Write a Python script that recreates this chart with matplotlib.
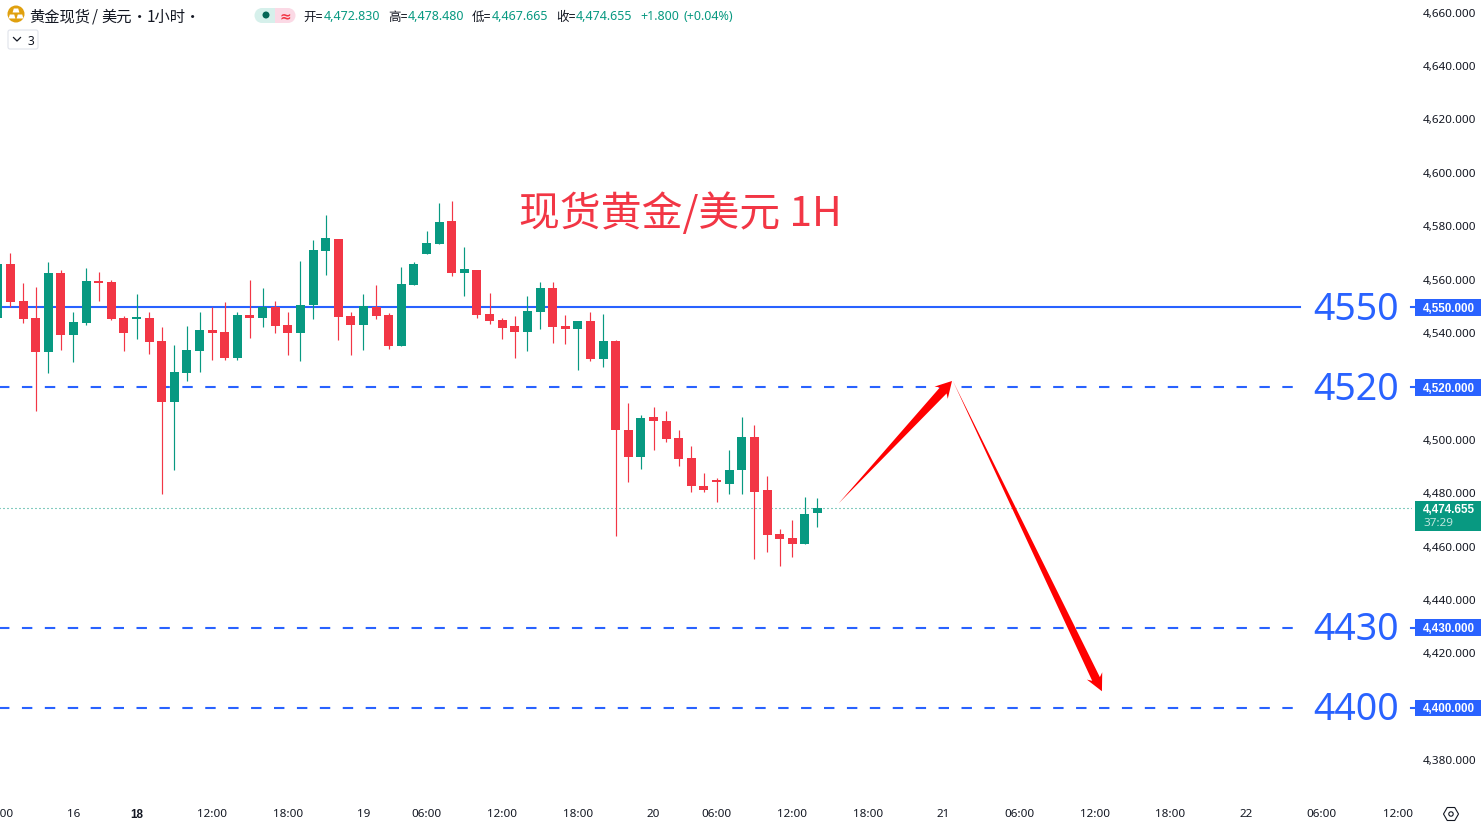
import matplotlib

matplotlib.use("Agg")
import matplotlib.pyplot as plt
from matplotlib.patches import Circle, FancyBboxPatch, Polygon, Rectangle, RegularPolygon
from matplotlib.transforms import IdentityTransform, ScaledTranslation
import numpy as np

plt.rcParams["font.family"] = ["Noto Sans CJK SC", "DejaVu Sans"]

opens = [
    4545.9, 4566.1, 4552.25, 4545.9, 4533.1, 4562.75, 4539.5, 4544.0, 4559.75, 4559.4, 4545.9,
    4545.6, 4545.9, 4537.25, 4514.4, 4525.25, 4533.5, 4541.4, 4540.6, 4530.9, 4547.0, 4545.9,
    4550.0, 4543.25, 4540.25, 4550.75, 4571.0, 4575.5, 4546.6, 4543.25, 4550.0, 4547.0, 4535.4,
    4558.25, 4569.9, 4573.6, 4582.25, 4562.75, 4563.9, 4547.4, 4545.1, 4542.9, 4540.6, 4548.1,
    4557.1, 4542.9, 4541.75, 4544.75, 4530.5, 4537.25, 4503.9, 4493.75, 4508.75, 4507.6, 4500.9,
    4493.4, 4483.25, 4484.75, 4484.0, 4488.9, 4501.25, 4481.4, 4465.25, 4463.75, 4461.5, 4472.83,
]
closes = [
    4566.1, 4551.9, 4545.5, 4533.1, 4562.75, 4539.5, 4544.4, 4559.75, 4559.0, 4545.5, 4540.25,
    4545.9, 4536.9, 4514.4, 4525.6, 4533.9, 4541.4, 4540.25, 4530.9, 4547.0, 4545.9, 4550.0,
    4542.9, 4540.25, 4550.75, 4571.4, 4575.9, 4546.25, 4543.25, 4550.4, 4546.6, 4535.4, 4558.6,
    4566.1, 4574.0, 4581.9, 4562.75, 4564.25, 4547.0, 4544.75, 4542.1, 4540.6, 4548.5, 4557.1,
    4542.5, 4541.75, 4544.75, 4530.5, 4537.25, 4503.9, 4493.75, 4508.4, 4507.6, 4500.5, 4493.0,
    4482.9, 4481.75, 4484.4, 4489.25, 4501.25, 4481.0, 4464.9, 4463.4, 4461.5, 4472.75, 4474.655,
]
highs = [
    4566.1, 4570.25, 4559.0, 4557.5, 4566.9, 4563.9, 4548.1, 4564.6, 4563.1, 4560.1, 4546.6,
    4554.9, 4548.1, 4542.5, 4535.75, 4542.9, 4548.1, 4550.0, 4551.9, 4548.1, 4560.1, 4557.1,
    4552.25, 4548.1, 4567.25, 4575.1, 4584.5, 4575.5, 4548.1, 4554.9, 4558.25, 4547.75, 4565.0,
    4566.9, 4578.5, 4589.0, 4589.75, 4572.5, 4563.9, 4555.25, 4545.9, 4546.6, 4554.1, 4559.4,
    4559.4, 4547.0, 4544.75, 4548.1, 4547.4, 4537.6, 4514.0, 4509.5, 4512.5, 4511.0, 4503.9,
    4497.9, 4488.1, 4485.9, 4496.4, 4508.75, 4506.1, 4487.0, 4467.1, 4470.5, 4479.1, 4478.48,
]
lows = [
    4545.9, 4550.0, 4544.0, 4511.0, 4525.25, 4533.9, 4529.4, 4543.25, 4552.25, 4545.1, 4533.5,
    4538.0, 4532.4, 4480.25, 4489.25, 4522.25, 4525.6, 4530.1, 4530.1, 4530.1, 4538.4, 4542.5,
    4540.25, 4532.0, 4529.75, 4545.5, 4562.0, 4537.6, 4532.0, 4533.9, 4545.5, 4534.25, 4535.4,
    4558.25, 4569.9, 4573.6, 4561.6, 4554.1, 4545.9, 4543.6, 4538.0, 4530.9, 4533.5, 4541.75,
    4536.5, 4536.1, 4526.4, 4529.75, 4527.5, 4464.5, 4484.4, 4489.6, 4496.4, 4499.4, 4490.4,
    4481.0, 4481.0, 4477.25, 4479.9, 4479.9, 4455.9, 4458.5, 4453.25, 4456.6, 4461.5, 4467.665,
]

price_ticks = [4380, 4400, 4420, 4440, 4460, 4480, 4500, 4520, 4540, 4560, 4580, 4600, 4620, 4640, 4660]
time_ticks = [0, 6, 11, 17, 23, 29, 34, 40, 46, 52, 57, 63, 69, 75, 81, 87, 93, 99, 105, 111]
time_labels = ["18:00", "16", "18", "12:00", "18:00", "19", "06:00", "12:00", "18:00", "20", "06:00",
               "12:00", "18:00", "21", "06:00", "12:00", "18:00", "22", "06:00", "12:00"]
bold_times = ["18"]

levels = [4550, 4520, 4430, 4400]
level_styles = ["-", (0, (5, 6)), (0, (5, 6)), (0, (5, 6))]
level_end = 103.27
last_price = 4474.655
countdown = "37:29"

arrow_up = [(66.67, 4476.5), (75.67, 4522.4)]
arrow_down = [(75.72, 4522.6), (87.56, 4406.2)]

title_text = "现货黄金/美元 1H"
title_pos = (54.14, 4586.7)

symbol_parts = ["黄金现货", "/", "美元", "·", "1小时", "·"]
symbol_x = [29, 92, 101, 140, 147, 193]

header_parts = [("开=", "#131722"), ("4,472.830", "#089981"), ("高=", "#131722"), ("4,478.480", "#089981"),
                ("低=", "#131722"), ("4,467.665", "#089981"), ("收=", "#131722"), ("4,474.655", "#089981"),
                ("+1.800", "#089981"), ("(+0.04%)", "#089981")]
header_x = [303, 324, 388, 408, 472, 492, 556, 576, 640, 684]

GREEN = "#089981"
RED = "#F23645"
BLUE = "#2962FF"
TEXT = "#131722"
NUM_FONT = ["Noto Sans", "DejaVu Sans"]
BOLD_FONT = ["Liberation Sans", "DejaVu Sans"]
PX_PER_BAR = 12.61
BAR0_X = -2.2


def draw_candles(ax):
    x = np.arange(len(opens))
    o, c = np.array(opens), np.array(closes)
    colors = [GREEN if b >= a else RED for a, b in zip(o, c)]
    ax.vlines(x, lows, highs, colors=colors, lw=0.85, zorder=3)
    height = np.maximum(np.abs(c - o), 0.8)
    ax.bar(x, height, bottom=np.minimum(o, c), width=9 / PX_PER_BAR, color=colors, lw=0, zorder=4)


def draw_arrow(ax, tail, tip, neck_w, head_w, head_l, zorder=5):
    # tapered arrow, built in screen pixels so the head does not skew with the scale
    a, b = ax.transData.transform([tail, tip])
    u = (b - a) / np.hypot(*(b - a))
    n = np.array([-u[1], u[0]])
    neck = b - u * head_l * 0.8
    back = b - u * head_l
    pts = [a, neck + n * neck_w / 2, back + n * head_w / 2, b, back - n * head_w / 2, neck - n * neck_w / 2]
    ax.add_patch(Polygon(pts, closed=True, fc="#FF0000", ec="none", transform=IdentityTransform(), zorder=zorder,
                         clip_on=False))


def axis_frac(px):
    return (px + 20) / 1432


def draw_levels(ax):
    trans = ax.get_yaxis_transform()
    for level, style in zip(levels, level_styles):
        ax.plot([0, level_end], [level, level], color=BLUE, lw=1.5, ls=style, zorder=2)
        ax.text(axis_frac(1356), level + 0.7, str(level), transform=trans, color=BLUE, fontsize=27, family=NUM_FONT,
                ha="center", va="center_baseline", zorder=6)
        ax.plot([axis_frac(1411), axis_frac(1415)], [level, level], color=BLUE, lw=1.5, transform=trans,
                clip_on=False)
        ax.add_patch(Rectangle((axis_frac(1415), level - 3.2), 66 / 1432, 6.3, transform=trans, fc=BLUE, ec="none",
                               clip_on=False, zorder=6))
        ax.text(axis_frac(1423), level, f"{level:,.3f}", transform=trans, color="white", fontsize=8.4,
                family=BOLD_FONT, weight="bold", va="center_baseline", clip_on=False, zorder=7)


def draw_last_price(ax):
    trans = ax.get_yaxis_transform()
    ax.plot([0, 1], [last_price, last_price], color=GREEN, lw=0.8, ls=(0, (0.9, 2.7)), transform=trans, zorder=2)
    ax.add_patch(Rectangle((axis_frac(1415), last_price - 8.6), 66 / 1432, 11.5, transform=trans, fc=GREEN, ec="none",
                           clip_on=False, zorder=6))
    ax.text(axis_frac(1423), last_price, f"{last_price:,.3f}", transform=trans, color="white", fontsize=8.4,
            family=BOLD_FONT, weight="bold", va="center_baseline", clip_on=False, zorder=7)
    ax.text(axis_frac(1423), last_price - 5, countdown, transform=trans, color="#BFE5DD", fontsize=8.4,
            family=NUM_FONT, va="center_baseline", clip_on=False, zorder=7)


def draw_chrome(fig):
    ui = fig.add_axes([0, 0, 1, 1], zorder=10)
    ui.set_xlim(0, 1484)
    ui.set_ylim(827, 0)
    ui.axis("off")

    # symbol icon and title
    ui.add_patch(Circle((16, 14), 8.5, fc="#E0A00E", ec="none"))
    for cx, cy in [(16, 10.5), (12, 16.5), (20, 16.5)]:
        ui.add_patch(Polygon([(cx - 2.2, cy - 2), (cx + 2.2, cy - 2), (cx + 3.4, cy + 2), (cx - 3.4, cy + 2)], fc="white"))
    for part, x in zip(symbol_parts, symbol_x):
        ui.text(x, 15, part, fontsize=11, color=TEXT, va="center_baseline", ha="center" if part == "·" else "left",
                family=["Noto Sans CJK SC", "DejaVu Sans"])

    # status pill
    ui.add_patch(Rectangle((262, 8), 13, 15, fc="#D6F0EB", ec="none"))
    ui.add_patch(Circle((262, 15.5), 7.5, fc="#D6F0EB", ec="none"))
    ui.add_patch(Rectangle((275, 8), 13, 15, fc="#FBD9E5", ec="none"))
    ui.add_patch(Circle((288, 15.5), 7.5, fc="#FBD9E5", ec="none"))
    ui.add_patch(Circle((266, 15), 3.5, fc="#056656", ec="none"))
    ui.text(285, 15, "≈", fontsize=10, color=RED, weight="bold", ha="center", va="center_baseline",
            family=["DejaVu Sans"])

    # ohlc readout
    for (label, color), x in zip(header_parts, header_x):
        ui.text(x, 15.5, label, fontsize=9, color=color, va="center_baseline",
                family=["Noto Sans", "Noto Sans CJK SC"])

    # collapse button
    ui.add_patch(FancyBboxPatch((8, 30), 30, 19, boxstyle="round,pad=0,rounding_size=2", fc="white", ec="#E0E3EB", lw=0.8))
    ui.plot([13.5, 17, 20.5], [37.5, 41, 37.5], color=TEXT, lw=0.9)
    ui.text(30.5, 40, "3", fontsize=8.6, color=TEXT, ha="center", va="center_baseline", family=NUM_FONT)

    # settings icon
    ui.add_patch(RegularPolygon((1451, 814), 6, radius=7.5, orientation=np.pi / 2, fc="white", ec=TEXT, lw=0.8))
    ui.add_patch(Circle((1451, 814), 2.2, fc="white", ec=TEXT, lw=0.8))


def main():
    fig = plt.figure(figsize=(14.84, 8.27), dpi=100)
    ax = fig.add_axes([-20 / 1484, 27 / 827, 1432 / 1484, 800 / 827])
    ax.set_xlim((-20 - BAR0_X) / PX_PER_BAR, (1412 - BAR0_X) / PX_PER_BAR)
    ax.set_ylim(4365.47, 4665.09)
    for spine in ax.spines.values():
        spine.set_visible(False)

    ax.yaxis.tick_right()
    ax.set_yticks(price_ticks, [f"{p:,.3f}" for p in price_ticks], fontsize=8.4, color=TEXT, family=NUM_FONT)
    ax.set_xticks(time_ticks, time_labels, fontsize=8.4, color=TEXT, family=NUM_FONT)
    ax.tick_params(axis="y", length=0, pad=7.9)
    ax.tick_params(axis="x", length=0, pad=6.2)
    for label in ax.get_xticklabels():
        if label.get_text() in bold_times:
            label.set_fontweight("bold")
            label.set_family(BOLD_FONT)
    nudge = ScaledTranslation(0, 1 / 100, fig.dpi_scale_trans)
    for tick in ax.yaxis.get_major_ticks():
        tick.label2.set_transform(tick.label2.get_transform() + nudge)

    draw_levels(ax)
    draw_last_price(ax)
    draw_candles(ax)
    draw_arrow(ax, arrow_up[0], arrow_up[1], 9, 18, 16)
    draw_arrow(ax, arrow_down[0], arrow_down[1], 8.5, 17, 17)

    ax.annotate(title_text, xy=title_pos, color=RED, fontsize=29.4, ha="center", va="center_baseline", zorder=6)

    draw_chrome(fig)
    fig.savefig("out.png", dpi=100)
    plt.close(fig)


main()
